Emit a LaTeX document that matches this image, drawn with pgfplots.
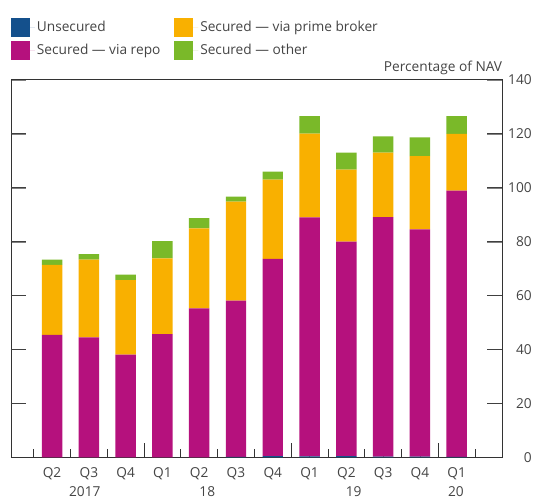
\documentclass[border=0pt]{standalone}
\usepackage{pgfplots}
\pgfplotsset{compat=1.18}
\usepackage{fontspec}
\setmainfont{Open Sans}
\definecolor{cblue}{HTML}{14508C}
\definecolor{cmag}{HTML}{B5117D}
\definecolor{corange}{HTML}{F9B000}
\definecolor{cgreen}{HTML}{7AB929}
\definecolor{ctext}{HTML}{444444}
\begin{document}
\begin{tikzpicture}
\begin{axis}[
  name=ax,
  at={(0,0)}, anchor=south west,
  scale only axis, width=493bp, height=379bp,
  ybar stacked, bar width=0.555,
  xmin=-1.117, xmax=12.24, ymin=0, ymax=140,
  ytick={0,20,...,140},
  xtick={0,...,11},
  xticklabels={Q2,Q3,Q4,Q1,Q2,Q3,Q4,Q1,Q2,Q3,Q4,Q1},
  minor xtick={-0.5,0.5,1.5,3.5,4.5,5.5,7.5,8.5,9.5,11.5},
  extra x ticks={2.5,6.5,10.5}, extra x tick labels={},
  minor tick length=8bp, major tick length=15bp,
  tick align=inside,
  xtick pos=bottom,
  yticklabel pos=right,
  axis line style={black!80, line width=0.8bp},
  minor x tick style={draw=black!80, line width=0.8bp},
  extra x tick style={xtick style={draw=black!80, line width=0.8bp}},
  /pgf/number format/assume math mode=true,
  tick label style={font=\fontsize{13.8}{16}\selectfont, text=ctext},
  yticklabel style={anchor=east, xshift=33bp},
  xticklabel style={yshift=-7bp},
  legend image code/.code={\fill[#1,draw=none] (0bp,-9.5bp) rectangle (19bp,9.5bp); \path (0bp,0bp) -- (24bp,0bp);},
  legend columns=2, transpose legend,
  legend cell align=left,
  legend style={draw=none, fill=none, inner sep=0pt, outer sep=0pt,
    at={(0,1)}, anchor=south west, yshift=20bp,
    font=\fontsize{13.8}{16}\selectfont, text=ctext,
    row sep=4bp,
    /tikz/every even column/.append style={column sep=12bp}},
]
\addplot[fill=cblue, draw=none] coordinates {(0,0) (1,0) (2,0) (3,0) (4,0) (5,0.2) (6,0.5) (7,0.4) (8,0.5) (9,0.3) (10,0.3) (11,0.2)};
\addlegendentry{Unsecured}
\addplot[fill=cmag, draw=none] coordinates {(0,45.4) (1,44.5) (2,38.1) (3,45.7) (4,55.3) (5,57.9) (6,73.1) (7,88.6) (8,79.5) (9,88.8) (10,84.2) (11,98.7)};
\addlegendentry{Secured — via repo}
\addplot[fill=corange, draw=none] coordinates {(0,26.0) (1,28.8) (2,27.6) (3,28.1) (4,29.6) (5,36.7) (6,29.4) (7,31.0) (8,26.7) (9,23.9) (10,27.2) (11,21.0)};
\addlegendentry{Secured — via prime broker}
\addplot[fill=cgreen, draw=none] coordinates {(0,1.9) (1,2.1) (2,2.1) (3,6.4) (4,3.8) (5,1.9) (6,2.9) (7,6.5) (8,6.3) (9,6.0) (10,6.9) (11,6.6)};
\addlegendentry{Secured — other}
\coordinate (y17) at (axis cs:0.89,0);
\coordinate (y18) at (axis cs:4.22,0);
\coordinate (y19) at (axis cs:8.2,0);
\coordinate (y20) at (axis cs:10.98,0);
\end{axis}
\foreach \v in {1,...,6} {
  \draw[black!75, line width=0.8bp] ([yshift=\v*54.1429bp]ax.south west) -- ++(15bp,0);
  \draw[black!75, line width=0.8bp] ([yshift=\v*54.1429bp]ax.south east) -- ++(-15bp,0);
}
\node[anchor=base east, inner sep=0pt, text=ctext, font=\fontsize{13.8}{16}\selectfont] at ([yshift=8bp]ax.north east) {Percentage of NAV};
\foreach \c/\t in {y17/2017, y18/18, y19/19, y20/20}
  \node[anchor=north, inner sep=0pt, text=ctext, font=\fontsize{13.8}{16}\selectfont] at ([yshift=-29bp]\c) {\t};
\path ([xshift=-11bp,yshift=-41bp]ax.south west) rectangle ([xshift=31bp,yshift=80bp]ax.north east);
\end{tikzpicture}
\end{document}
